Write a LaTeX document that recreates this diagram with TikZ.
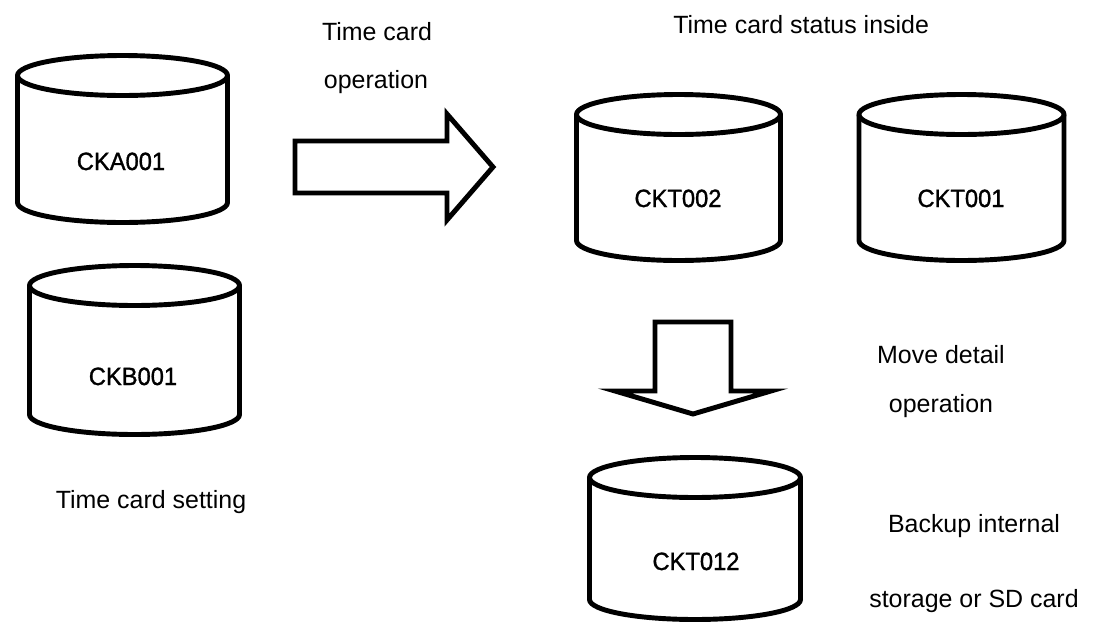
\documentclass[tikz,border=0pt]{standalone}
\usepackage{fontspec}
\setmainfont{Liberation Sans}
\newfontfamily\dbfont[FakeBold=1.2,FakeStretch=0.95]{Liberation Sans}

\tikzset{
  dbline/.style={line width=2.8pt, line join=round},
  blockarrow/.style={line width=2.8pt, line join=miter, miter limit=12},
  caption/.style={anchor=base, inner sep=0pt, font=\fontsize{14.2}{17}\selectfont},
  dblabel/.style={anchor=base, inner sep=0pt, font=\dbfont\fontsize{14.2}{17}\selectfont},
}

\begin{document}
\begin{tikzpicture}[x=0.02cm, y=-0.02cm]
  \useasboundingbox (0,0) rectangle (1100,623);

  % Time card setting: CKA001
  \draw[dbline] (17.5,75.5) -- (17.5,202.5) arc[start angle=180, end angle=0, x radius=105, y radius=20] -- (227.5,75.5);
  \draw[dbline] (122.5,75.5) ellipse[x radius=105, y radius=20];
  \node[dblabel] (cka) at (121,170) {CKA001};

  % Time card setting: CKB001
  \draw[dbline] (29.5,285.5) -- (29.5,414.5) arc[start angle=180, end angle=0, x radius=105, y radius=20] -- (239.5,285.5);
  \draw[dbline] (134.5,285.5) ellipse[x radius=105, y radius=20];
  \node[dblabel] (ckb) at (133,385) {CKB001};
  \node[caption] (setting) at (151,508) {Time card setting};

  % Time card operation arrow
  \draw[blockarrow] (295,141) -- (447,141) -- (447,114) -- (493,167) -- (447,220) -- (447,193) -- (295,193) -- cycle;
  \node[caption] (opa) at (377,40) {Time card};
  \node[caption] (opb) at (376,88) {operation};

  % Time card status inside: CKT002 and CKT001
  \node[caption, anchor=base west] (status) at (673,33) {Time card status inside};
  \draw[dbline] (576.5,114.5) -- (576.5,240.5) arc[start angle=180, end angle=0, x radius=102, y radius=20] -- (780.5,114.5);
  \draw[dbline] (678.5,114.5) ellipse[x radius=102, y radius=20];
  \node[dblabel] (ckt2) at (678,207) {CKT002};

  \draw[dbline] (859,114.5) -- (859,240.5) arc[start angle=180, end angle=0, x radius=102.5, y radius=20] -- (1064,114.5);
  \draw[dbline] (961.5,114.5) ellipse[x radius=102.5, y radius=20];
  \node[dblabel] (ckt1) at (961,207) {CKT001};

  % Move detail arrow
  \draw[blockarrow] (655,322) -- (731,322) -- (731,391) -- (771,391) -- (693,414) -- (615,391) -- (655,391) -- cycle;
  \node[caption] (mova) at (941,363) {Move detail};
  \node[caption] (movb) at (941,412) {operation};

  % Backup: CKT012
  \draw[dbline] (589.5,477.5) -- (589.5,599.5) arc[start angle=180, end angle=0, x radius=105.5, y radius=20] -- (800.5,477.5);
  \draw[dbline] (695,477.5) ellipse[x radius=105.5, y radius=20];
  \node[dblabel] (ckt12) at (696,570) {CKT012};
  \node[caption] (bka) at (974,532) {Backup internal};
  \node[caption] (bkb) at (974,607) {storage or SD card};
\end{tikzpicture}
\end{document}
